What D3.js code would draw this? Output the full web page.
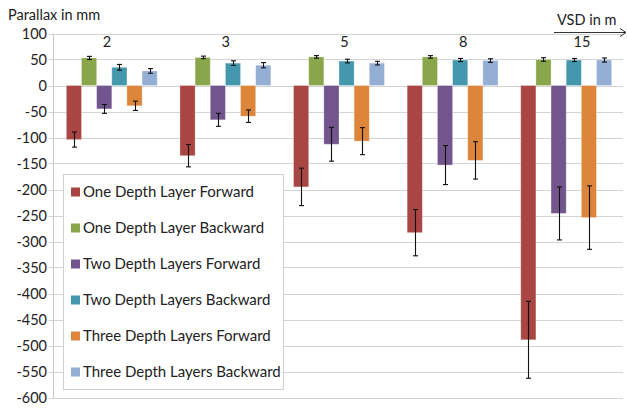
<!DOCTYPE html>
<html><head><meta charset="utf-8">
<script src="https://cdn.jsdelivr.net/npm/d3@7"></script>
<style>body{margin:0;background:#fff}svg{display:block}text{font-family:Lato,"Open Sans",sans-serif;fill:#222}</style>
</head><body>
<script>
const categories = ["2", "3", "5", "8", "15"];
const seriesNames = ["One Depth Layer Forward", "One Depth Layer Backward", "Two Depth Layers Forward", "Two Depth Layers Backward", "Three Depth Layers Forward", "Three Depth Layers Backward"];
const seriesColors = ["#A94543", "#8AA64A", "#72558C", "#4398AE", "#DC853B", "#94AED4"];
const oneFwd   = [-104, -135, -195, -283, -489];
const oneBwd   = [53, 54, 55, 55, 50];
const twoFwd   = [-45, -66, -113, -153, -246];
const twoBwd   = [35, 43, 47, 49, 49];
const threeFwd = [-39, -59, -107, -144, -254];
const threeBwd = [28, 39, 43, 48, 49];
const oneFwdErr   = [14.5, 21.5, 36, 44.5, 74];
const oneBwdErr   = [3, 2.5, 2.5, 2.5, 3.5];
const twoFwdErr   = [8.5, 12.5, 32.5, 37.5, 51];
const twoBwdErr   = [5.5, 4.5, 3.5, 3, 3];
const threeFwdErr = [9, 12, 26, 36, 61];
const threeBwdErr = [4.5, 5, 3.5, 3.5, 4];
const yTicks = [100, 50, 0, -50, -100, -150, -200, -250, -300, -350, -400, -450, -500, -550, -600];
const yTitle = "Parallax in mm";
const xTitle = "VSD in m";

const values = [oneFwd, oneBwd, twoFwd, twoBwd, threeFwd, threeBwd];
const errors = [oneFwdErr, oneBwdErr, twoFwdErr, twoBwdErr, threeFwdErr, threeBwdErr];

const W = 627, H = 408;
const svg = d3.select("body").append("svg").attr("width", W).attr("height", H);

const y = d3.scaleLinear().domain([-600, 100]).range([397.5, 33.5]);
const x = d3.scaleBand().domain(categories).range([55, 623]).paddingInner(0.2).paddingOuter(0.1);
const xs = d3.scaleBand().domain(d3.range(seriesNames.length)).range([0, x.bandwidth()]);
const xLabel = d3.scalePoint().domain(categories).range([107, 582]);

// gridlines
svg.append("g").selectAll("line").data(yTicks).join("line")
  .attr("x1", 49).attr("x2", 623)
  .attr("y1", d => Math.round(y(d)) + 0.5).attr("y2", d => Math.round(y(d)) + 0.5)
  .attr("stroke", "#D4D4D4").attr("stroke-width", 1);

// y axis line
svg.append("line").attr("x1", 53.5).attr("x2", 53.5).attr("y1", y(100)).attr("y2", y(-600) + 0.5)
  .attr("stroke", "#C8C8C8");

// y tick labels
svg.append("g").selectAll("text").data(yTicks).join("text")
  .attr("x", 47).attr("y", d => y(d)).attr("dy", "0.35em")
  .attr("text-anchor", "end").style("font-size", "14.5px")
  .text(d => d);

// bars
const gBars = svg.append("g");
values.forEach((vals, si) => {
  gBars.append("g").selectAll("rect").data(categories).join("rect")
    .attr("x", (c) => x(c) + xs(si))
    .attr("width", xs.bandwidth())
    .attr("y", (c, i) => y(Math.max(0, vals[i])))
    .attr("height", (c, i) => Math.abs(y(vals[i]) - y(0)))
    .attr("fill", seriesColors[si])
    .attr("stroke", "rgba(255,255,255,0.35)").attr("stroke-width", 0.8);
});

// error bars
const gErr = svg.append("g").attr("stroke", "#111").attr("stroke-width", 1.1);
values.forEach((vals, si) => {
  categories.forEach((c, i) => {
    const cx = Math.round(x(c) + xs(si) + xs.bandwidth() / 2) + 0.5;
    const top = y(vals[i] + errors[si][i]), bot = y(vals[i] - errors[si][i]);
    gErr.append("line").attr("x1", cx).attr("x2", cx).attr("y1", top).attr("y2", bot);
    gErr.append("line").attr("x1", cx - 2.5).attr("x2", cx + 2.5).attr("y1", top).attr("y2", top);
    gErr.append("line").attr("x1", cx - 2.5).attr("x2", cx + 2.5).attr("y1", bot).attr("y2", bot);
  });
});

// category labels (top)
svg.append("g").selectAll("text").data(categories).join("text")
  .attr("x", d => xLabel(d)).attr("y", 47)
  .attr("text-anchor", "middle").style("font-size", "14.5px")
  .text(d => d);

// axis titles
svg.append("text").attr("x", 8).attr("y", 20).style("font-size", "14.5px").text(yTitle);
svg.append("text").attr("x", 557).attr("y", 25).style("font-size", "14.5px").text(xTitle);
svg.append("line").attr("x1", 554).attr("x2", 626).attr("y1", 32.5).attr("y2", 32.5).attr("stroke", "#333");
svg.append("path").attr("d", "M620,28.5L626,32.5L620,36.5").attr("fill", "none").attr("stroke", "#333");

// legend
const lg = svg.append("g");
lg.append("rect").attr("x", 63.5).attr("y", 174.5).attr("width", 220).attr("height", 215)
  .attr("fill", "#fff").attr("stroke", "#D0D0D0");
const items = lg.selectAll("g.item").data(seriesNames).join("g").attr("class", "item")
  .attr("transform", (d, i) => `translate(0,${192 + i * 36})`);
items.append("rect").attr("x", 71).attr("y", -4.5).attr("width", 9).attr("height", 9)
  .attr("fill", (d, i) => seriesColors[i]);
items.append("text").attr("x", 83).attr("dy", "0.35em").style("font-size", "15px").text(d => d);
</script>
</body></html>
